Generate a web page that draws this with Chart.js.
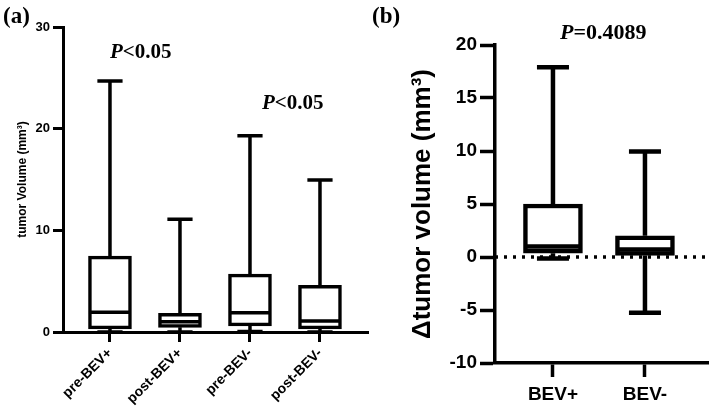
<!DOCTYPE html>
<html>
<head>
<meta charset="utf-8">
<script src="https://cdn.jsdelivr.net/npm/chart.js@4.4.0/dist/chart.umd.min.js"></script>
<style>
  html, body { margin: 0; padding: 0; background: #fff; }
  #wrap { position: relative; width: 709px; height: 412px; overflow: hidden; background: #fff; }
  #panelA { position: absolute; left: 0; top: 0; }
  #panelB { position: absolute; left: 370px; top: 0; }
</style>
</head>
<body>
<div id="wrap">
  <canvas id="panelA" width="370" height="412"></canvas>
  <canvas id="panelB" width="339" height="412"></canvas>
</div>
<script>
// (a) tumor volume before / after, box = Q1..Q3, whiskers = min..max
const groupsA = ['pre-BEV+', 'post-BEV+', 'pre-BEV-', 'post-BEV-'];
const minA    = [0.0, 0.0, 0.05, 0.0];
const q1A     = [0.3, 0.46, 0.6, 0.3];
const medianA = [1.94, 1.0, 1.9, 1.08];
const q3A     = [7.47, 1.84, 5.7, 4.6];
const maxA    = [24.7, 11.1, 19.3, 14.95];
const yTicksA = [0, 10, 20, 30];
const pTextA  = ['<0.05', '<0.05'];

// (b) change in tumor volume
const groupsB = ['BEV+', 'BEV-'];
const minB    = [-0.15, -5.25];
const q1B     = [0.35, 0.15];
const medianB = [1.0, 0.7];
const q3B     = [5.0, 2.0];
const maxB    = [17.9, 9.95];
const yTicksB = [-10, -5, 0, 5, 10, 15, 20];
const pTextB  = ['=0.4089'];
const zeroB   = 0;

const SANS = 'Arial, "Liberation Sans", Helvetica, sans-serif';
const SERIF = '"Times New Roman", "Liberation Serif", serif';

// line segments for whiskers, caps and median, split by null points
function whiskerPoints(mins, q1s, meds, q3s, maxs, capHalf, medHalf) {
  const pts = [];
  mins.forEach((_, i) => {
    pts.push({x: i - capHalf, y: maxs[i]}, {x: i + capHalf, y: maxs[i]}, {x: i, y: null});
    pts.push({x: i, y: maxs[i]}, {x: i, y: q3s[i]}, {x: i, y: null});
    pts.push({x: i, y: q1s[i]}, {x: i, y: mins[i]}, {x: i, y: null});
    pts.push({x: i - capHalf, y: mins[i]}, {x: i + capHalf, y: mins[i]}, {x: i, y: null});
    pts.push({x: i - medHalf, y: meds[i]}, {x: i + medHalf, y: meds[i]}, {x: i, y: null});
  });
  return pts;
}

const panelText = {
  id: 'panelText',
  afterDraw(chart, args, opts) {
    const {ctx} = chart;
    const x = chart.scales.x, y = chart.scales.y;
    ctx.save();
    ctx.fillStyle = '#000';
    ctx.textBaseline = 'alphabetic';
    ctx.textAlign = 'left';
    ctx.font = `bold ${opts.letterSize}px ${SERIF}`;
    ctx.fillText(opts.letter, opts.letterX, opts.letterY);
    opts.pvals.forEach(p => {
      let px = x.getPixelForValue(p.x);
      const py = y.getPixelForValue(p.y);
      ctx.font = `italic bold ${opts.pSize}px ${SERIF}`;
      ctx.fillText('P', px, py);
      px += ctx.measureText('P').width;
      ctx.font = `bold ${opts.pSize}px ${SERIF}`;
      ctx.fillText(p.text, px, py);
    });
    ctx.restore();
  }
};

function boxChart(id, p) {
  const datasets = [
    {
      type: 'line',
      data: whiskerPoints(p.min, p.q1, p.median, p.q3, p.max, p.capHalf, p.medHalf),
      borderColor: '#000', borderWidth: p.lw, pointRadius: 0,
      spanGaps: false, borderCapStyle: 'butt', tension: 0, clip: false, order: 0
    },
    {
      type: 'bar',
      data: p.groups.map((g, i) => ({x: i, y: [p.q1[i], p.q3[i]]})),
      backgroundColor: '#fff', borderColor: '#000', borderWidth: p.lw,
      borderSkipped: false, barThickness: p.boxWidth, order: 1
    }
  ].concat(p.extra || []);

  return new Chart(document.getElementById(id), {
    type: 'bar',
    data: { datasets },
    plugins: [panelText],
    options: {
      responsive: false,
      animation: false,
      layout: { padding: p.padding, autoPadding: false },
      plugins: {
        legend: { display: false },
        tooltip: { enabled: false },
        panelText: p.text
      },
      scales: {
        x: {
          type: 'linear', min: p.xMin, max: p.xMax, offset: false, bounds: 'data',
          afterBuildTicks: s => { s.ticks = p.groups.map((g, i) => ({value: i})); },
          afterFit: s => { s.height = p.xHeight; s.paddingLeft = 0; s.paddingRight = 0; },
          grid: { offset: false, drawOnChartArea: false, tickLength: p.xTickLen, tickWidth: p.axisLw, tickColor: '#000' },
          border: { display: true, width: p.axisLw, color: '#000' },
          ticks: {
            callback: v => p.groups[v], autoSkip: false,
            minRotation: p.rot, maxRotation: p.rot, padding: p.xPad, color: '#000',
            font: { family: SANS, weight: 'bold', size: p.xFont }
          }
        },
        y: {
          min: p.yTicks[0], max: p.yTicks[p.yTicks.length - 1],
          afterBuildTicks: s => { s.ticks = p.yTicks.map(v => ({value: v})); },
          afterFit: s => { s.width = p.yWidth; },
          grid: { drawOnChartArea: false, tickLength: p.yTickLen, tickWidth: p.axisLw, tickColor: '#000' },
          border: { display: true, width: p.axisLw, color: '#000' },
          ticks: { padding: p.yPad, color: '#000', font: { family: SANS, weight: 'bold', size: p.yFont } },
          title: {
            display: true, text: p.yTitle, color: '#000',
            font: { family: SANS, weight: 'bold', size: p.titleSize },
            padding: { top: p.titlePad, bottom: 0 }
          }
        }
      }
    }
  });
}

boxChart('panelA', {
  groups: groupsA, min: minA, q1: q1A, median: medianA, q3: q3A, max: maxA, yTicks: yTicksA,
  capHalf: 0.18, medHalf: 0.3, boxWidth: 43, lw: 3.5, axisLw: 3,
  padding: { top: 27, right: 2, left: 0, bottom: 0 },
  xMin: -0.671, xMax: 3.686, xHeight: 80, xTickLen: 10, xPad: 3, xFont: 14, rot: 45,
  yWidth: 63, yTickLen: 10, yPad: 3, yFont: 13,
  yTitle: 'tumor Volume (mm³)', titleSize: 12, titlePad: 15,
  text: {
    letter: '(a)', letterX: 3, letterY: 23, letterSize: 23, pSize: 21,
    pvals: [{x: 0, y: 27, text: pTextA[0]}, {x: 2.17, y: 21.9, text: pTextA[1]}]
  }
});

boxChart('panelB', {
  groups: groupsB, min: minB, q1: q1B, median: medianB, q3: q3B, max: maxB, yTicks: yTicksB,
  capHalf: 0.174, medHalf: 0.31, boxWidth: 59, lw: 4.5, axisLw: 3.5,
  padding: { top: 45, right: 0, left: 0, bottom: 0 },
  xMin: -0.63, xMax: 1.696, xHeight: 49, xTickLen: 14, xPad: 6, xFont: 19, rot: 0,
  yWidth: 125, yTickLen: 15, yPad: 3, yFont: 19,
  yTitle: 'Δtumor volume (mm³)', titleSize: 26, titlePad: 37,
  text: {
    letter: '(b)', letterX: 2, letterY: 23, letterSize: 23, pSize: 22,
    pvals: [{x: 0.076, y: 20.6, text: pTextB[0]}]
  },
  extra: [{
    type: 'line',
    data: [{x: -0.63, y: zeroB}, {x: 1.696, y: zeroB}],
    borderColor: '#000', borderWidth: 3.5, borderDash: [3, 6],
    pointRadius: 0, order: 2
  }]
});
</script>
</body>
</html>
